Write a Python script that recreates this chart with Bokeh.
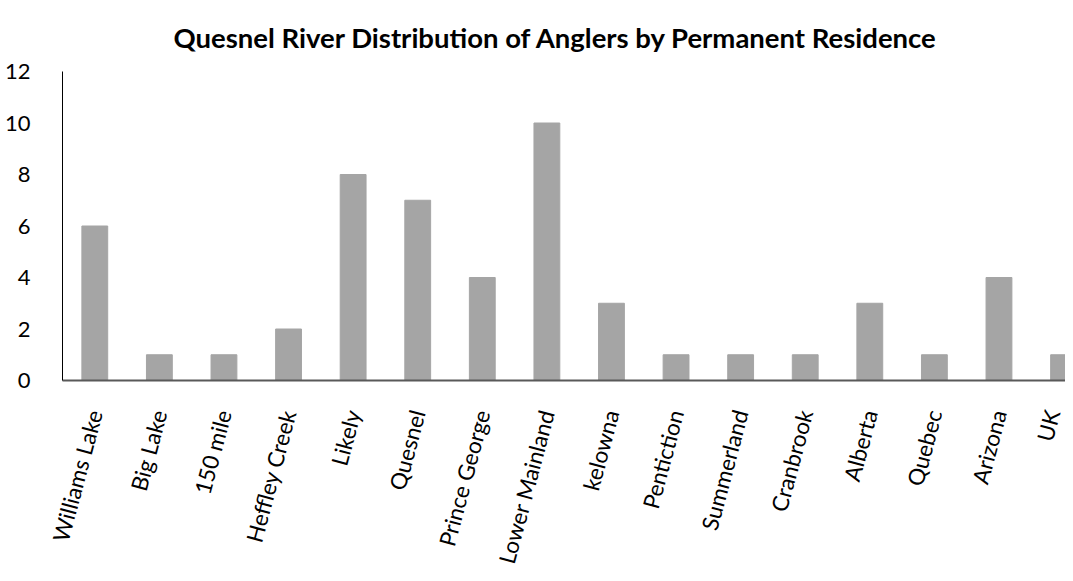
from bokeh.plotting import figure
from bokeh.models import Range1d, FixedTicker
from bokeh.embed import file_html
from bokeh.resources import INLINE

categories = ["Williams Lake", "Big Lake", "150 mile", "Heffley Creek", "Likely", "Quesnel",
              "Prince George", "Lower Mainland", "kelowna", "Pentiction", "Summerland",
              "Cranbrook", "Alberta", "Quebec", "Arizona", "UK"]
anglers = [6, 1, 1, 2, 8, 7, 4, 10, 3, 1, 1, 1, 3, 1, 4, 1]
y_ticks = [0, 2, 4, 6, 8, 10, 12]
title_text = "Quesnel River Distribution of Anglers by Permanent Residence"

FONT = "Lato"
xs = [i + 0.5 for i in range(len(categories))]

p = figure(width=1065, height=573, output_backend="svg", toolbar_location=None,
           x_range=Range1d(0, 15.53), y_range=Range1d(0, 12),
           min_border_left=62, min_border_right=0, min_border_bottom=192,
           min_border_top=0)
p.title.text = title_text
p.title.text_font = FONT
p.title.text_font_size = "27.5px"
p.title.text_font_style = "bold"
p.title.align = "left"
p.title.offset = 111
p.title.text_color = "#000000"
p.title.standoff = 36

p.vbar(x=xs, top=anglers, width=0.4, fill_color="#A5A5A5", line_color="#A5A5A5")

p.outline_line_color = None
p.grid.grid_line_color = None

p.yaxis.ticker = FixedTicker(ticks=y_ticks)
p.yaxis.major_tick_line_color = None
p.yaxis.minor_tick_line_color = None
p.yaxis.axis_line_color = "#000000"
p.yaxis.major_label_text_font = FONT
p.yaxis.major_label_text_font_size = "22px"
p.yaxis.major_label_text_color = "#000000"
p.yaxis.major_label_standoff = 26

p.xaxis.ticker = FixedTicker(ticks=xs)
p.xaxis.major_label_overrides = {x: c for x, c in zip(xs, categories)}
p.xaxis.major_tick_line_color = None
p.xaxis.minor_tick_line_color = None
p.xaxis.axis_line_color = "#595959"
p.xaxis.axis_line_width = 2
p.xaxis.major_label_text_font = FONT
p.xaxis.major_label_text_font_size = "22.5px"
p.xaxis.major_label_text_color = "#000000"
p.xaxis.major_label_orientation = 1.31
p.xaxis.major_label_standoff = 24

open("out.html", "w").write(file_html(p, INLINE))
